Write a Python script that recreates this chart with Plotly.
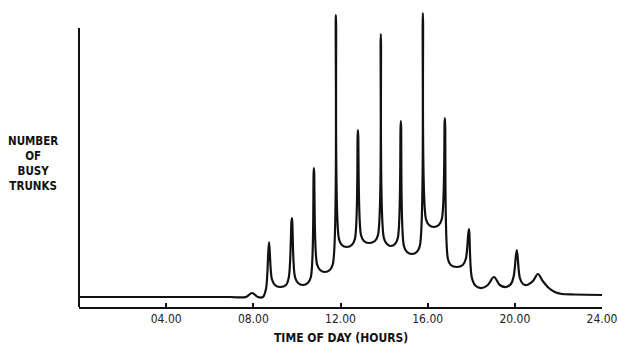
import plotly.graph_objects as go

# time of day (hours) and number of busy trunks
hours = [0, 6.93, 7.66, 7.94, 8.21, 8.44, 8.58, 8.72, 8.85, 8.99, 9.22, 9.50,
         9.63, 9.77, 9.91, 10.05, 10.28, 10.50, 10.64, 10.78, 10.92, 11.06,
         11.28, 11.51, 11.65, 11.79, 11.93, 12.06, 12.29, 12.52, 12.66, 12.80,
         12.94, 13.07, 13.30, 13.58, 13.72, 13.85, 13.99, 14.13, 14.31, 14.50,
         14.63, 14.77, 14.91, 15.05, 15.28, 15.50, 15.64, 15.78, 15.92, 16.06,
         16.28, 16.51, 16.65, 16.79, 16.93, 17.06, 17.34, 17.61, 17.75, 17.89,
         18.03, 18.21, 18.49, 18.76, 19.04, 19.31, 19.59, 19.82, 19.95, 20.09,
         20.23, 20.37, 20.55, 20.83, 21.06, 21.28, 21.56, 21.83, 22.16, 22.75,
         24.0]
busy_trunks = [10, 10, 10, 14, 10, 10, 18, 65, 28, 22, 20, 22,
               30, 89, 30, 24, 22, 24, 30, 139, 43, 37,
               35, 37, 43, 292, 68, 62, 60, 62, 68, 177,
               72, 66, 64, 66, 72, 273, 69, 63, 61, 63,
               69, 186, 61, 55, 53, 55, 61, 294, 88, 82,
               80, 82, 88, 189, 48, 42, 40, 42, 48, 78,
               29, 21, 19, 22, 30, 22, 20, 23, 31, 57,
               29, 23, 22, 26, 33, 26, 19, 15, 13, 12.5,
               12]

tick_hours = [4, 8, 12, 16, 20, 24]
tick_labels = ["04.00", "08.00", "12.00", "16.00", "20.00", "24.00"]
y_axis_top = 279

FONT = "DejaVu Sans Condensed, Liberation Sans Narrow, Arial Narrow, sans-serif"
INK = "#111111"

fig = go.Figure()
fig.add_trace(
    go.Scatter(
        x=hours,
        y=busy_trunks,
        mode="lines",
        line=dict(color=INK, width=2.2, shape="spline", smoothing=1),
        hoverinfo="skip",
        showlegend=False,
    )
)

# vertical axis line, shorter than the tallest peaks
fig.add_shape(
    type="line", xref="paper", yref="y",
    x0=0, x1=0, y0=0, y1=y_axis_top,
    line=dict(color=INK, width=2),
)

fig.add_annotation(
    text="NUMBER<br>OF<br>BUSY<br>TRUNKS",
    xref="paper", yref="paper", x=-0.088, y=0.477,
    xanchor="center", yanchor="middle", showarrow=False, align="center",
    font=dict(family=FONT, size=11.5, color=INK, weight="bold"),
)
fig.add_annotation(
    text="TIME OF DAY (HOURS)",
    xref="paper", yref="paper", x=0.5, y=-0.103,
    xanchor="center", yanchor="middle", showarrow=False,
    font=dict(family=FONT, size=12, color=INK, weight="bold"),
)

fig.update_xaxes(
    range=[0, 24], automargin=False,
    showline=True, linewidth=2, linecolor=INK,
    ticks="inside", ticklen=4, tickwidth=1.5, tickcolor=INK,
    tickvals=tick_hours, ticktext=tick_labels,
    tickfont=dict(family=FONT, size=12, color="#222222"),
    showgrid=False, zeroline=False,
)
fig.update_yaxes(
    range=[0, 300], automargin=False,
    showline=False, showticklabels=False, ticks="",
    showgrid=False, zeroline=False,
)
fig.update_layout(
    width=619, height=347,
    margin=dict(l=79, r=17, t=7, b=40),
    paper_bgcolor="white", plot_bgcolor="white",
)

# drop the page's default body margin so the figure fills the window exactly
fig.write_html(
    "out.html",
    config={"displayModeBar": False},
    post_script="document.body.style.margin = '0';",
)
